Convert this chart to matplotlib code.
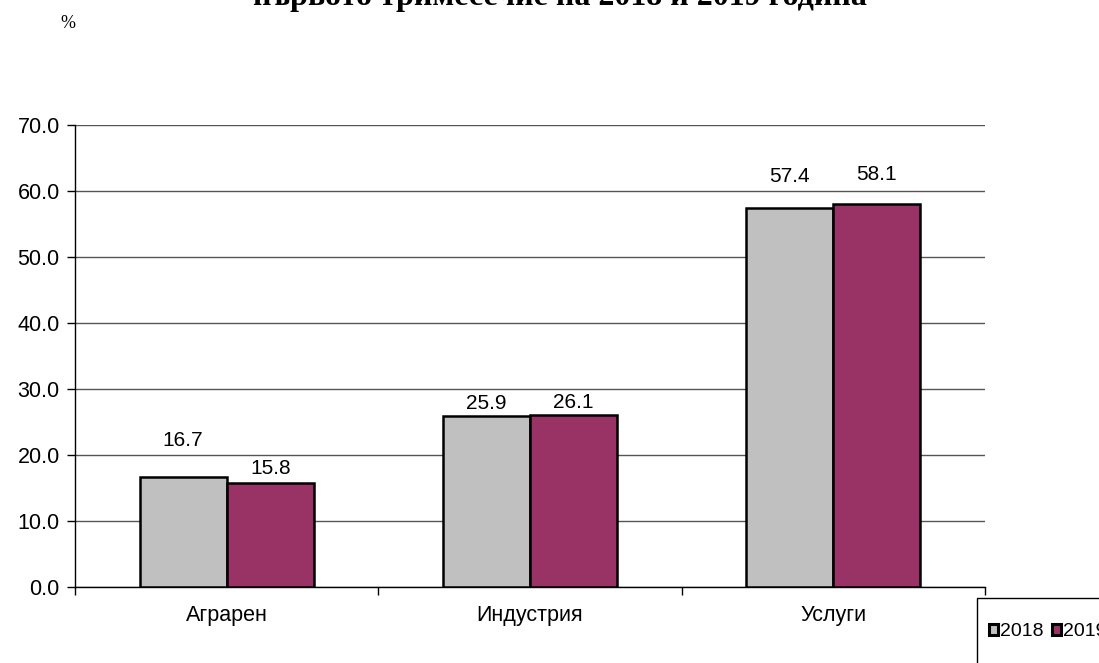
import matplotlib
matplotlib.use("Agg")
import matplotlib.pyplot as plt
from matplotlib.patches import Rectangle
import numpy as np

categories = ["Аграрен", "Индустрия", "Услуги"]
series_names = ["2018", "2019"]
values_2018 = [16.7, 25.9, 57.4]
values_2019 = [15.8, 26.1, 58.1]
yticks = [0, 10, 20, 30, 40, 50, 60, 70]
title = "първото тримесечие на 2018 и 2019 година"

# label centre offsets (points) above bar tops, as placed in the original
label_offsets_2018 = [26, 9.4, 23]
label_offsets_2019 = [10, 8.6, 21]

colors = ["#C0C0C0", "#993366"]

W, H = 1099, 663
fig = plt.figure(figsize=(W / 100, H / 100), dpi=100)
ax = fig.add_axes([75 / W, 1 - 587 / H, (985 - 75) / W, (587 - 125) / H])

sans = ["Liberation Sans", "DejaVu Sans"]
serif = ["Liberation Serif", "DejaVu Serif"]

x = np.arange(len(categories))
bw = 0.287
b1 = ax.bar(x - bw / 2, values_2018, bw, color=colors[0], edgecolor="black", linewidth=1.8, label=series_names[0], zorder=3)
b2 = ax.bar(x + bw / 2, values_2019, bw, color=colors[1], edgecolor="black", linewidth=1.8, label=series_names[1], zorder=3)

for bars, vals, offs in [(b1, values_2018, label_offsets_2018), (b2, values_2019, label_offsets_2019)]:
    for r, v, o in zip(bars, vals, offs):
        ax.annotate(f"{v:.1f}", (r.get_x() + r.get_width() / 2, v), xytext=(0, o),
                    textcoords="offset points", ha="center", va="center",
                    fontsize=15, family=sans)

ax.set_xlim(-0.5, len(categories) - 0.5)
ax.set_ylim(0, 70)
ax.set_yticks(yticks)
ax.set_yticklabels([f"{t:.1f}" for t in yticks], fontsize=15.5, family=sans)
ax.yaxis.grid(True, color="#555555", linewidth=1)
ax.set_axisbelow(True)

ax.set_xticks(x)
ax.set_xticklabels(categories, fontsize=15.5, family=sans)
ax.tick_params(axis="x", length=0, pad=13)
ax.set_xticks(np.arange(len(categories) + 1) - 0.5, minor=True)
ax.tick_params(axis="x", which="minor", length=6, width=1, direction="out")
ax.tick_params(axis="y", length=6, width=1, direction="out", pad=5)

for s in ["top", "right"]:
    ax.spines[s].set_visible(False)
ax.spines["left"].set_linewidth(1)
ax.spines["bottom"].set_linewidth(1)

fig.text(560 / W, 1 - 5 / H, title, ha="center", va="baseline", fontsize=23,
         fontweight="bold", family=serif)
fig.text(60 / W, 1 - 24 / H, "%", ha="left", va="center", fontsize=13, family=serif)

# legend frame (extends past the figure edge, as in the original)
fig.patches.append(Rectangle((977 / W, 0 - 0.05), 0.2, (663 - 598) / H + 0.05,
                             transform=fig.transFigure, fill=False,
                             edgecolor="black", linewidth=1))
leg = fig.legend(loc="center left", bbox_to_anchor=(989 / W, 1 - 632 / H), ncol=2,
                 frameon=False, prop={"family": sans, "size": 14},
                 handlelength=0.45, handleheight=0.45,
                 handletextpad=0.12, columnspacing=0.45, borderpad=0, borderaxespad=0)
for h in leg.legend_handles:
    h.set_linewidth(2.2)

fig.savefig("out.png", dpi=100)
